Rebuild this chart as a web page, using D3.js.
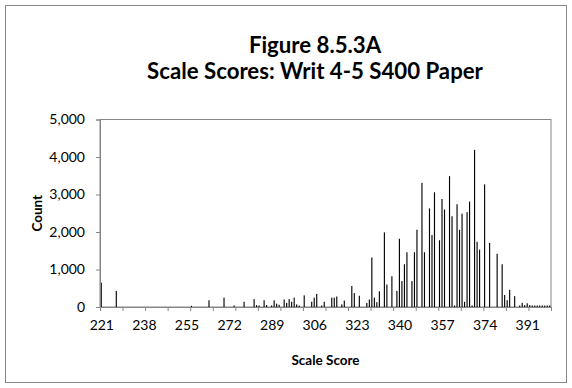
<!DOCTYPE html>
<html>
<head>
<meta charset="utf-8">
<script src="https://cdn.jsdelivr.net/npm/d3@7"></script>
<style>
  body { margin: 0; background: #fff; }
  text { font-family: Lato, 'Open Sans', sans-serif; fill: #000; }
</style>
</head>
<body>
<svg id="chart" width="572" height="388"></svg>
<script>
const titleLines = ['Figure 8.5.3A', 'Scale Scores: Writ 4-5 S400 Paper']
const scores = d3.range(221, 401)
// counts for scale scores 221..400, ten per row
const counts = [
  650, 0, 0, 0, 0, 0, 430, 0, 0, 0,
  0, 0, 0, 0, 0, 0, 0, 0, 0, 0,
  0, 0, 0, 0, 0, 0, 0, 0, 0, 0,
  0, 0, 0, 0, 0, 0, 30, 0, 0, 0,
  0, 0, 0, 180, 0, 0, 0, 0, 0, 250,
  0, 0, 0, 40, 0, 0, 0, 140, 0, 0,
  0, 210, 50, 40, 0, 180, 50, 0, 40, 180,
  90, 60, 0, 200, 110, 210, 140, 250, 70, 40,
  0, 310, 0, 0, 140, 250, 350, 0, 40, 140,
  0, 0, 250, 250, 280, 0, 70, 170, 0, 0,
  560, 370, 0, 300, 0, 0, 110, 200, 1320, 250,
  130, 420, 0, 1990, 600, 0, 820, 0, 430, 1820,
  690, 1140, 1460, 0, 690, 1460, 2060, 0, 3310, 1460,
  0, 2630, 1920, 3060, 0, 1780, 2880, 2600, 0, 3490,
  2420, 40, 2740, 2060, 2490, 140, 2530, 2810, 40, 4190,
  1740, 1530, 0, 3270, 0, 1710, 0, 0, 1420, 0,
  1140, 320, 180, 460, 0, 290, 0, 40, 110, 50,
  100, 50, 40, 40, 40, 40, 40, 40, 40, 40
]
const xLabels = [221, 238, 255, 272, 289, 306, 323, 340, 357, 374, 391]
const yTicks = [0, 1000, 2000, 3000, 4000, 5000]

const svg = d3.select('#chart')
const plot = { left: 100, right: 551, top: 119.5, bottom: 307 }
const axisColor = '#868686'

svg.append('rect')
  .attr('x', 5.5).attr('y', 5.5)
  .attr('width', 561).attr('height', 377)
  .attr('fill', '#fff')
  .attr('stroke', axisColor)

// title: both lines share one size, fitted so the long line spans ~336px
const titles = svg.selectAll('text.title')
  .data(titleLines)
  .enter()
  .append('text')
  .attr('class', 'title')
  .attr('x', 315)
  .attr('y', (d, i) => 53 + i * 26)
  .attr('text-anchor', 'middle')
  .attr('font-weight', 'bold')
  .attr('font-size', 20)
  .text(d => d)
const longW = titles.nodes()[1].getComputedTextLength()
titles.attr('font-size', 20 * 336 / longW)

const x = d3.scaleBand()
  .domain(scores)
  .range([plot.left, plot.right])
  .paddingInner(0.55)
  .paddingOuter(0.275)

const xIndex = d3.scaleLinear()
  .domain([0, scores.length])
  .range([plot.left, plot.right])

const y = d3.scaleLinear()
  .domain([0, 5000])
  .range([plot.bottom, plot.top])

// plot frame
svg.append('rect')
  .attr('x', plot.left).attr('y', plot.top)
  .attr('width', plot.right - plot.left)
  .attr('height', plot.bottom - plot.top)
  .attr('fill', 'none')
  .attr('stroke', axisColor)

svg.append('g')
  .selectAll('rect')
  .data(scores)
  .enter()
  .append('rect')
  .attr('x', d => x(d))
  .attr('y', (d, i) => y(counts[i]))
  .attr('width', x.bandwidth())
  .attr('height', (d, i) => y(0) - y(counts[i]))
  .attr('fill', '#000')

// y axis
const yAxis = svg.append('g')
  .attr('transform', 'translate(' + plot.left + ',0)')
  .call(d3.axisLeft(y).tickValues(yTicks).tickSize(4).tickPadding(11).tickFormat(d3.format(',')))
yAxis.select('.domain').attr('stroke', axisColor)
yAxis.selectAll('.tick line').attr('stroke', axisColor)
yAxis.selectAll('.tick text').attr('font-size', 14).attr('font-family', 'Lato, sans-serif')

// x axis tick marks every 9 categories
const xTickAxis = svg.append('g')
  .attr('transform', 'translate(0,' + plot.bottom + ')')
  .call(d3.axisBottom(xIndex).tickValues(d3.range(0, scores.length + 1, 9)).tickSize(4).tickFormat(''))
xTickAxis.select('.domain').attr('stroke', axisColor)
xTickAxis.selectAll('.tick line').attr('stroke', axisColor)

// x axis labels every 17 categories
const xLabelAxis = svg.append('g')
  .attr('transform', 'translate(' + (x.bandwidth() / 2) + ',' + plot.bottom + ')')
  .call(d3.axisBottom(x).tickValues(xLabels).tickSize(0).tickPadding(13))
xLabelAxis.select('.domain').remove()
xLabelAxis.selectAll('.tick text').attr('font-size', 14).attr('font-family', 'Lato, sans-serif')

svg.append('text')
  .attr('x', (plot.left + plot.right) / 2)
  .attr('y', 365)
  .attr('text-anchor', 'middle')
  .attr('font-weight', 'bold')
  .attr('font-size', 13.5)
  .text('Scale Score')

svg.append('text')
  .attr('transform', 'translate(42,' + ((plot.top + plot.bottom) / 2) + ') rotate(-90)')
  .attr('text-anchor', 'middle')
  .attr('font-weight', 'bold')
  .attr('font-size', 13.5)
  .text('Count')
</script>
</body>
</html>
